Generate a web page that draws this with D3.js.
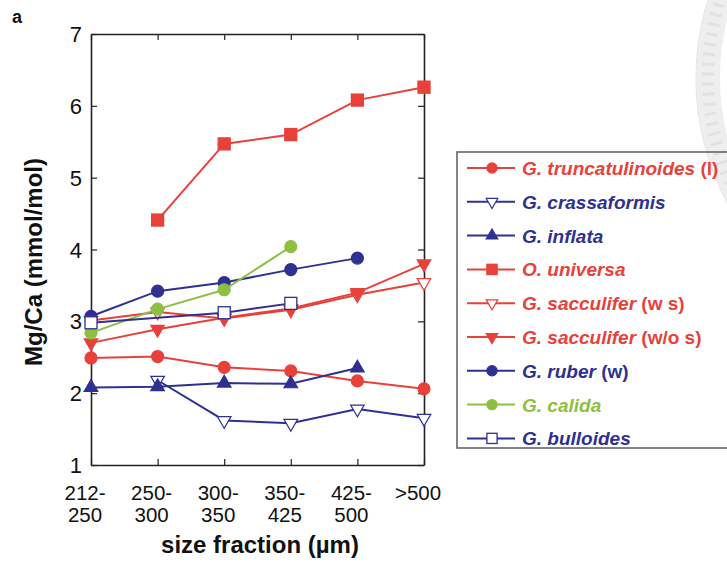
<!DOCTYPE html>
<html>
<head>
<meta charset="utf-8">
<script src="https://cdn.jsdelivr.net/npm/d3@7"></script>
<style>
  body { margin: 0; background: #fff; }
  svg { display: block; font-family: "Liberation Sans", Arial, sans-serif; }
</style>
</head>
<body>
<svg id="chart" width="727" height="563"></svg>
<script>
// size fractions (x categories)
var sizeFractions = ["212-250", "250-300", "300-350", "350-425", "425-500", ">500"];
var tickLines = [["212-", "250"], ["250-", "300"], ["300-", "350"], ["350-", "425"], ["425-", "500"], [">500"]];
var yTicks = [1, 2, 3, 4, 5, 6, 7];

// Mg/Ca values per species, null = no sample
var truncatulinoides = [2.49, 2.51, 2.36, 2.31, 2.17, 2.06];
var crassaformis     = [null, 2.18, 1.62, 1.58, 1.78, 1.65];
var inflata          = [2.08, 2.09, 2.14, 2.13, 2.35, null];
var universa         = [null, 4.41, 5.47, 5.60, 6.08, 6.26];
var sacculiferWS     = [3.01, 3.13, 3.04, 3.16, 3.37, 3.54];
var sacculiferWOS    = [2.70, 2.89, 3.05, 3.18, 3.40, 3.80];
var ruber            = [3.07, 3.42, 3.54, 3.72, 3.88, null];
var calida           = [2.84, 3.17, 3.44, 4.04, null, null];
var bulloides        = [2.98, null, 3.12, 3.25, null, null];

var RED = "#e8413a", BLUE = "#2e3192", GREEN = "#8dbf43";

// 系列定义: name 斜体部分 + 后缀正体
var series = [
  {name: "G. truncatulinoides", suffix: " (l)", values: truncatulinoides, color: RED, shape: "circle", fill: true},
  {name: "G. crassaformis", suffix: "", values: crassaformis, color: BLUE, shape: "down", fill: false},
  {name: "G. inflata", suffix: "", values: inflata, color: BLUE, shape: "up", fill: true},
  {name: "O. universa", suffix: "", values: universa, color: RED, shape: "square", fill: true},
  {name: "G. sacculifer", suffix: " (w s)", values: sacculiferWS, color: RED, shape: "down", fill: false},
  {name: "G. sacculifer", suffix: " (w/o s)", values: sacculiferWOS, color: RED, shape: "down", fill: true},
  {name: "G. ruber", suffix: " (w)", values: ruber, color: BLUE, shape: "circle", fill: true},
  {name: "G. calida", suffix: "", values: calida, color: GREEN, shape: "circle", fill: true},
  {name: "G. bulloides", suffix: "", values: bulloides, color: BLUE, shape: "square", fill: false}
];

var svg = d3.select("#chart");
var plot = {left: 91, right: 424, top: 34, bottom: 465};

var x = d3.scalePoint().domain(sizeFractions).range([plot.left, plot.right]).padding(0);
var y = d3.scaleLinear().domain([1, 7]).range([plot.bottom, plot.top]);

// 背景水印(右上角淡灰色圆环, 只露出一部分)
var wm = svg.append("g");
wm.append("circle")
  .attr("cx", 962).attr("cy", 78).attr("r", 254)
  .attr("fill", "none").attr("stroke", "#eeeeee").attr("stroke-width", 24);
wm.append("circle")
  .attr("cx", 962).attr("cy", 78).attr("r", 254)
  .attr("fill", "none").attr("stroke", "#e2e2e2").attr("stroke-width", 12)
  .attr("stroke-dasharray", "3 7");
wm.append("circle")
  .attr("cx", 962).attr("cy", 78).attr("r", 266)
  .attr("fill", "none").attr("stroke", "#e6e6e6").attr("stroke-width", 1);

// 坐标框 + 内向刻度
var tickLen = 6;
var gAxes = svg.append("g");
gAxes.append("g").attr("transform", "translate(0," + plot.bottom + ")")
  .call(d3.axisBottom(x).tickSizeInner(-tickLen).tickSizeOuter(0).tickFormat(""));
gAxes.append("g").attr("transform", "translate(0," + plot.top + ")")
  .call(d3.axisTop(x).tickSizeInner(-tickLen).tickSizeOuter(0).tickFormat(""));
gAxes.append("g").attr("transform", "translate(" + plot.left + ",0)")
  .call(d3.axisLeft(y).tickValues(yTicks).tickSizeInner(-tickLen).tickSizeOuter(0).tickFormat(""));
gAxes.append("g").attr("transform", "translate(" + plot.right + ",0)")
  .call(d3.axisRight(y).tickValues(yTicks).tickSizeInner(-tickLen).tickSizeOuter(0).tickFormat(""));
svg.selectAll(".domain").attr("stroke", "#222").attr("stroke-width", 1.6);
svg.selectAll(".tick line").attr("stroke", "#222").attr("stroke-width", 1.2);

// y 刻度文字
svg.append("g").selectAll("text").data(yTicks).join("text")
  .attr("x", 82).attr("y", function (d) { return y(d) + 8; })
  .attr("text-anchor", "end").attr("font-size", 22).attr("fill", "#111")
  .text(function (d) { return d; });

// x 刻度文字 (两行)
var xl = svg.append("g").selectAll("text").data(sizeFractions).join("text")
  .attr("text-anchor", "middle").attr("font-size", 20.5).attr("fill", "#111");
xl.each(function (d, i) {
  var t = d3.select(this);
  tickLines[i].forEach(function (line, j) {
    t.append("tspan").attr("x", x(d) - 6).attr("y", 500 + j * 22).text(line);
  });
});

// 轴标题
svg.append("text")
  .attr("x", 260).attr("y", 553).attr("text-anchor", "middle")
  .attr("font-size", 24).attr("font-weight", "bold").attr("fill", "#111")
  .text("size fraction (µm)");
svg.append("text")
  .attr("transform", "translate(42,262) rotate(-90)").attr("text-anchor", "middle")
  .attr("font-size", 24).attr("font-weight", "bold").attr("fill", "#111")
  .text("Mg/Ca (mmol/mol)");
svg.append("text")
  .attr("x", 12).attr("y", 23).attr("font-size", 18).attr("font-weight", "bold").attr("fill", "#111")
  .text("a");

// 画标记
function drawMarker(g, s, cx, cy, scale) {
  var k = scale || 1;
  var fill = s.fill ? s.color : "#fff";
  if (s.shape === "circle") {
    g.append("circle").attr("cx", cx).attr("cy", cy).attr("r", 6 * k)
      .attr("fill", fill).attr("stroke", s.color).attr("stroke-width", 1.2);
  } else if (s.shape === "square") {
    var h = 6 * k;
    g.append("rect").attr("x", cx - h).attr("y", cy - h).attr("width", 2 * h).attr("height", 2 * h)
      .attr("fill", fill).attr("stroke", s.color).attr("stroke-width", 1.3);
  } else {
    var sym = d3.symbol().type(d3.symbolTriangle).size(80 * k * k);
    var rot = s.shape === "down" ? 180 : 0;
    g.append("path").attr("d", sym())
      .attr("transform", "translate(" + cx + "," + cy + ") rotate(" + rot + ")")
      .attr("fill", fill).attr("stroke", s.color).attr("stroke-width", 1.2);
  }
}

var line = d3.line().x(function (d) { return x(d.cat); }).y(function (d) { return y(d.v); });

var gData = svg.append("g");
series.forEach(function (s) {
  var pts = s.values.map(function (v, i) { return {cat: sizeFractions[i], v: v}; })
    .filter(function (d) { return d.v !== null; });
  var g = gData.append("g");
  g.append("path").datum(pts).attr("d", line)
    .attr("fill", "none").attr("stroke", s.color).attr("stroke-width", 2);
  pts.forEach(function (d) { drawMarker(g, s, x(d.cat), y(d.v)); });
});

// 图例
var legend = {left: 457, top: 152, bottom: 448, rowH: 33.8, first: 168};
svg.append("rect")
  .attr("x", legend.left).attr("y", legend.top)
  .attr("width", 727 - legend.left + 10).attr("height", legend.bottom - legend.top)
  .attr("fill", "none").attr("stroke", "#666").attr("stroke-width", 1.6);

series.forEach(function (s, i) {
  var cy = legend.first + i * legend.rowH;
  var g = svg.append("g");
  g.append("line").attr("x1", 467).attr("x2", 515).attr("y1", cy).attr("y2", cy)
    .attr("stroke", s.color).attr("stroke-width", 2);
  drawMarker(g, s, 492, cy, 0.85);
  var t = g.append("text").attr("x", 522).attr("y", cy + 7)
    .attr("font-size", 19).attr("font-weight", "bold").attr("fill", s.color);
  t.append("tspan").attr("font-style", "italic").text(s.name);
  if (s.suffix) t.append("tspan").text(s.suffix);
});
</script>
</body>
</html>
